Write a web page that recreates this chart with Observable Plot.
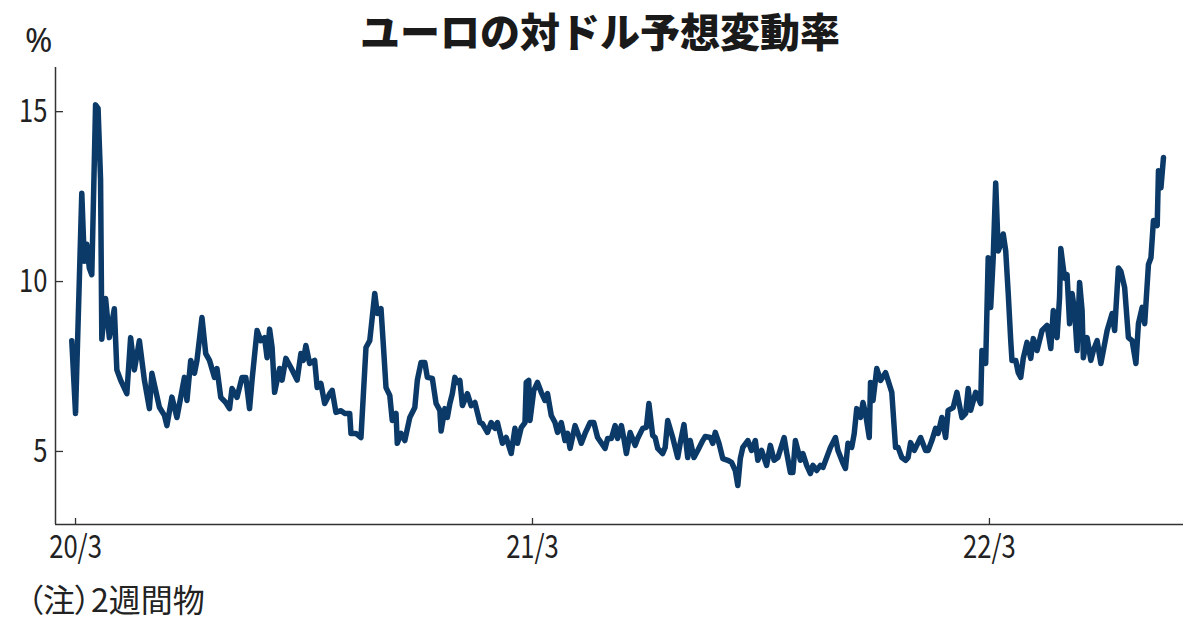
<!DOCTYPE html>
<html><head><meta charset="utf-8">
<script src="https://cdn.jsdelivr.net/npm/d3@7"></script>
<script src="https://cdn.jsdelivr.net/npm/@observablehq/plot@0.6"></script>
<style>
html,body{margin:0;padding:0;background:#fff;}
#wrap{width:1200px;height:630px;overflow:hidden;background:#fff;}
#head{position:relative;width:1200px;height:60px;}
#title{position:absolute;left:0;top:7px;width:1200px;text-align:center;font:900 40px "Noto Sans CJK JP",sans-serif;line-height:46px;color:#1a1a1a;}
#unit{position:absolute;left:25px;top:23px;font:400 33px "Noto Sans",sans-serif;line-height:34px;color:#222;}
#note{height:40px;padding-left:27px;font:400 32px "Noto Sans CJK JP",sans-serif;font-feature-settings:"palt";line-height:40px;color:#222;margin-top:-12px;}
</style></head>
<body><div id="wrap"><div id="head"><div id="title"></div><div id="unit"></div></div><div id="chart"></div><div id="note"></div></div>
<script>
const title = "ユーロの対ドル予想変動率";
const unitLabel = "%";
const noteText = "（注）2週間物";
const xTicks = ["2020-03-01","2021-03-01","2022-03-01"];
const xTickLabels = ["20/3","21/3","22/3"];
const yTicks = [5,10,15];
const xDomain = ["2020-02-14","2022-08-03"];
const yDomain = [2.85,16.3];

const dates = [
"2020-02-27","2020-03-01","2020-03-06","2020-03-08","2020-03-10","2020-03-12","2020-03-14","2020-03-17","2020-03-19","2020-03-21",
"2020-03-22","2020-03-25","2020-03-28","2020-04-01","2020-04-03","2020-04-06","2020-04-11","2020-04-14","2020-04-17","2020-04-21",
"2020-04-25","2020-04-29","2020-05-01","2020-05-04","2020-05-07","2020-05-11","2020-05-13","2020-05-17","2020-05-21","2020-05-27",
"2020-05-29","2020-06-01","2020-06-04","2020-06-06","2020-06-10","2020-06-13","2020-06-16","2020-06-20","2020-06-22","2020-06-25",
"2020-06-29","2020-07-02","2020-07-04","2020-07-08","2020-07-12","2020-07-15","2020-07-18","2020-07-20","2020-07-24","2020-07-27",
"2020-07-30","2020-08-01","2020-08-03","2020-08-05","2020-08-07","2020-08-11","2020-08-13","2020-08-16","2020-08-20","2020-08-25",
"2020-08-28","2020-08-30","2020-09-01","2020-09-04","2020-09-08","2020-09-10","2020-09-13","2020-09-16","2020-09-20","2020-09-22",
"2020-09-25","2020-09-29","2020-10-02","2020-10-06","2020-10-07","2020-10-11","2020-10-15","2020-10-19","2020-10-22","2020-10-24",
"2020-10-26","2020-10-28","2020-10-31","2020-11-02","2020-11-04","2020-11-07","2020-11-09","2020-11-12","2020-11-13","2020-11-16",
"2020-11-19","2020-11-23","2020-11-27","2020-11-29","2020-12-02","2020-12-05","2020-12-07","2020-12-11","2020-12-14","2020-12-17",
"2020-12-18","2020-12-21","2020-12-23","2020-12-25","2020-12-27","2020-12-29","2020-12-31","2021-01-02","2021-01-04","2021-01-08",
"2021-01-11","2021-01-14","2021-01-18","2021-01-20","2021-01-24","2021-01-27","2021-01-30","2021-02-01","2021-02-05","2021-02-08",
"2021-02-12","2021-02-15","2021-02-17","2021-02-20","2021-02-23","2021-02-24","2021-02-26","2021-02-27","2021-03-02","2021-03-05",
"2021-03-08","2021-03-11","2021-03-13","2021-03-16","2021-03-19","2021-03-21","2021-03-24","2021-03-27","2021-03-29","2021-03-31",
"2021-04-04","2021-04-06","2021-04-09","2021-04-12","2021-04-16","2021-04-19","2021-04-22","2021-04-28","2021-04-30","2021-05-03",
"2021-05-06","2021-05-08","2021-05-11","2021-05-13","2021-05-15","2021-05-18","2021-05-22","2021-05-24","2021-05-28","2021-05-31",
"2021-06-02","2021-06-05","2021-06-07","2021-06-09","2021-06-13","2021-06-15","2021-06-17","2021-06-21","2021-06-25","2021-06-27",
"2021-06-30","2021-07-03","2021-07-05","2021-07-08","2021-07-11","2021-07-15","2021-07-17","2021-07-21","2021-07-23","2021-07-25",
"2021-07-28","2021-07-31","2021-08-04","2021-08-07","2021-08-10","2021-08-12","2021-08-14","2021-08-16","2021-08-20","2021-08-23",
"2021-08-26","2021-08-28","2021-08-31","2021-09-04","2021-09-07","2021-09-10","2021-09-13","2021-09-18","2021-09-20","2021-09-23",
"2021-09-25","2021-09-27","2021-10-01","2021-10-03","2021-10-06","2021-10-09","2021-10-11","2021-10-14","2021-10-17","2021-10-19",
"2021-10-22","2021-10-25","2021-10-29","2021-10-31","2021-11-04","2021-11-06","2021-11-08","2021-11-11","2021-11-13","2021-11-15",
"2021-11-18","2021-11-20","2021-11-22","2021-11-25","2021-11-26","2021-11-28","2021-12-01","2021-12-04","2021-12-08","2021-12-10",
"2021-12-13","2021-12-16","2021-12-18","2021-12-21","2021-12-24","2021-12-26","2021-12-28","2021-12-31","2022-01-03","2022-01-05",
"2022-01-09","2022-01-11","2022-01-14","2022-01-17","2022-01-19","2022-01-22","2022-01-25","2022-01-27","2022-01-31","2022-02-03",
"2022-02-07","2022-02-10","2022-02-12","2022-02-14","2022-02-18","2022-02-22","2022-02-23","2022-02-26","2022-02-28","2022-03-02",
"2022-03-04","2022-03-06","2022-03-08","2022-03-10","2022-03-12","2022-03-14","2022-03-16","2022-03-18","2022-03-19","2022-03-22",
"2022-03-24","2022-03-26","2022-03-28","2022-03-31","2022-04-03","2022-04-05","2022-04-08","2022-04-12","2022-04-16","2022-04-19",
"2022-04-21","2022-04-24","2022-04-26","2022-04-27","2022-04-30","2022-05-02","2022-05-04","2022-05-06","2022-05-08","2022-05-10",
"2022-05-12","2022-05-14","2022-05-15","2022-05-18","2022-05-21","2022-05-23","2022-05-26","2022-05-29","2022-05-31","2022-06-03",
"2022-06-07","2022-06-09","2022-06-12","2022-06-14","2022-06-17","2022-06-20","2022-06-23","2022-06-26","2022-06-28","2022-07-01",
"2022-07-03","2022-07-06","2022-07-08","2022-07-10","2022-07-13","2022-07-14","2022-07-16","2022-07-18"
];
const values = [
8.26,6.12,12.6,10.6,11.1,10.4,10.2,15.2,15.1,13.0,
8.3,9.5,8.35,9.2,7.4,7.1,6.7,8.35,7.4,8.26,
7.1,6.26,7.3,6.8,6.3,6.06,5.76,6.6,6.0,7.18,
6.5,7.68,7.3,7.68,8.94,7.88,7.68,7.18,7.44,6.59,
6.44,6.26,6.85,6.59,7.18,7.18,6.26,7.1,8.56,8.26,
8.35,7.76,8.6,8.06,6.74,7.44,7.1,7.74,7.47,7.1,
7.88,7.68,8.12,7.59,7.68,6.88,7.0,6.41,6.7,6.8,
6.15,6.2,6.12,6.12,5.53,5.53,5.41,8.06,8.26,8.94,
9.65,9.06,9.2,8.06,6.88,6.65,5.91,6.12,5.24,5.53,
5.32,6.0,6.29,7.09,7.62,7.62,7.18,7.15,6.41,6.21,
5.6,6.26,6.0,6.41,6.7,7.18,7.03,7.09,6.35,6.7,
6.35,6.44,5.85,5.82,5.56,5.85,5.68,5.85,5.24,5.41,
4.94,5.68,5.24,5.7,5.85,7.03,7.09,5.91,6.79,7.03,
6.74,6.5,6.7,6.06,5.85,5.56,5.85,5.32,5.53,5.09,
5.76,5.56,5.24,5.53,5.85,5.85,5.41,5.09,5.38,5.38,
5.76,5.38,5.76,5.38,4.94,5.56,5.18,5.38,5.68,5.71,
6.41,5.47,5.41,5.09,4.94,5.12,5.91,5.41,4.82,5.24,
5.79,4.82,5.32,4.82,5.03,5.32,5.44,5.41,5.24,5.56,
5.24,4.79,4.74,4.68,4.44,4.0,4.79,5.12,5.32,5.03,
5.32,4.74,5.03,4.59,5.18,4.74,4.82,5.41,4.97,4.38,
4.38,5.32,4.74,4.94,4.59,4.35,4.59,4.44,4.59,4.53,
4.82,5.12,5.41,5.03,4.65,4.5,5.24,5.12,5.53,6.26,
6.0,6.44,6.12,5.41,7.03,6.5,7.44,7.09,7.32,7.09,
6.74,5.12,5.12,4.82,4.74,4.82,5.26,5.03,5.26,5.41,
5.03,5.03,5.32,5.68,5.53,6.0,5.41,6.21,6.29,6.74,
6.0,6.12,6.85,6.21,6.74,6.41,7.97,7.59,10.7,9.24,
10.7,12.9,10.9,11.1,11.4,10.9,9.65,8.26,7.68,7.68,
7.32,7.18,7.74,8.21,7.74,8.32,7.97,8.56,8.71,8.03,
9.15,8.35,9.53,10.97,10.1,10.2,8.76,9.65,9.15,7.97,
9.97,9.15,7.76,8.35,7.68,7.97,8.26,7.59,7.97,8.56,
9.06,8.56,10.4,10.3,9.82,8.35,8.26,7.59,8.76,9.24,
8.76,10.5,10.7,11.8,11.65,13.26,12.76,13.65
];

const data = dates.map((d, i) => ({date: new Date(d), value: values[i]}));
const xTickDates = xTicks.map(d => new Date(d));
const xDom = xDomain.map(d => new Date(d));

document.getElementById("title").textContent = title;
document.getElementById("unit").textContent = unitLabel;
document.getElementById("note").textContent = noteText;

const chart = Plot.plot({
  width: 1200,
  height: 530,
  marginTop: 7,
  marginBottom: 66,
  marginLeft: 55,
  marginRight: 17,
  style: {fontFamily: '"Noto Sans CJK JP", "Noto Sans", sans-serif', fontSize: "32px", color: "#222", background: "#fff", overflow: "visible"},
  x: {type: "utc", domain: xDom},
  y: {domain: yDomain},
  marks: [
    Plot.axisX({ticks: xTickDates, tickFormat: d => xTickLabels[xTickDates.findIndex(t => +t === +d)], tickSize: -6, tickPadding: 17, label: null, stroke: "#333", strokeWidth: 1.3}),
    Plot.axisY({ticks: yTicks, tickSize: -8, tickPadding: 16, label: null, stroke: "#333", strokeWidth: 1.3}),
    Plot.ruleX([xDom[0]], {stroke: "#333", strokeWidth: 1.5}),
    Plot.ruleY([yDomain[0]], {stroke: "#333", strokeWidth: 1.5}),
    Plot.line(data, {x: "date", y: "value", stroke: "#0b3a68", strokeWidth: 5.5, strokeLinejoin: "round", strokeLinecap: "round"})
  ]
});
document.getElementById("chart").appendChild(chart);

chart.querySelectorAll('g[aria-label="x-axis tick label"] text, g[aria-label="y-axis tick label"] text').forEach(t => {
  const w = t.getComputedTextLength();
  t.setAttribute("textLength", (w * 0.8).toFixed(1));
  t.setAttribute("lengthAdjust", "spacingAndGlyphs");
});
</script>
</body></html>
